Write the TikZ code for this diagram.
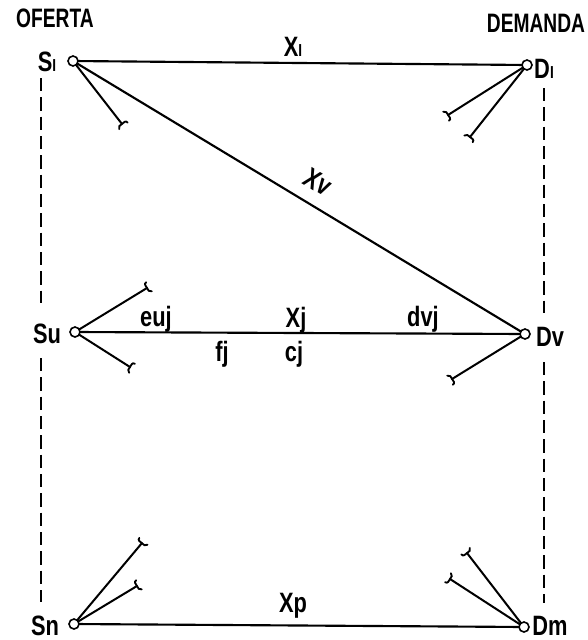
\documentclass[tikz,border=0pt]{standalone}
\usepackage{fontspec}
\setmainfont{Liberation Sans}
\newfontfamily\ttlfont[FakeStretch=0.72]{Liberation Sans Bold}
\newfontfamily\lblfont[FakeStretch=0.78]{Liberation Sans Bold}
\usetikzlibrary{decorations.markings}
\tikzset{
  pt/.style={circle,draw,fill=white,line width=1.2pt,inner sep=0pt,minimum size=7.5pt},
  link/.style={line width=1.6pt,line cap=round},
  branch/.style={line width=1.5pt,line cap=round,
    postaction={decorate},
    decoration={markings,mark=at position 1 with {
      \draw[line width=1.4pt,line cap=round]
        (1.8pt,-4pt) .. controls (-0.4pt,-3.8pt) and (0pt,-1.5pt) .. (0pt,0pt)
        .. controls (0pt,1.5pt) and (-0.6pt,4pt) .. (1.8pt,4pt);}}},
  guide/.style={line width=1.6pt,dash pattern=on 10pt off 4.5pt},
  ttl/.style={font=\ttlfont\fontsize{20}{20}\selectfont,inner sep=0pt},
  lbl/.style={font=\lblfont\fontsize{21}{21}\selectfont,inner sep=0pt}
}
\newcommand{\smallone}{{\fontsize{13}{13}\selectfont I}}
\begin{document}
\begin{tikzpicture}[x=0.75pt,y=-0.75pt]
\useasboundingbox (0,0) rectangle (587,640);
% titles
\node[ttl] (oferta) at (55,18) {OFERTA};
\node[ttl] (demanda) at (536,23) {DEMANDA};
% dashed guides
\coordinate (l1a) at (41,78); \coordinate (l1b) at (41,303);
\coordinate (l2a) at (41,358); \coordinate (l2b) at (41,602);
\coordinate (r1a) at (544,88); \coordinate (r1b) at (544,313);
\coordinate (r2a) at (544,362); \coordinate (r2b) at (544,603);
\draw[guide] (l1a) -- (l1b);
\draw[guide] (l2a) -- (l2b);
\draw[guide] (r1a) -- (r1b);
\draw[guide] (r2a) -- (r2b);
% branch end points
\coordinate (b1) at (122,124);
\coordinate (b2) at (448,115);
\coordinate (b3) at (470,137);
\coordinate (b4) at (147,288);
\coordinate (b5) at (130,367);
\coordinate (b6) at (452,379);
\coordinate (b7) at (142,543);
\coordinate (b8) at (137,586);
\coordinate (b9) at (467,553);
\coordinate (b10) at (450,579);
% node positions
\coordinate (pS1) at (73,61);
\coordinate (pD1) at (527,65);
\coordinate (pSu) at (75,332);
\coordinate (pDv) at (525,334);
\coordinate (pSn) at (74,624);
\coordinate (pDm) at (524,627);
% main links
\draw[link] (pS1) -- (pD1);
\draw[link] (pS1) -- (pDv);
\draw[link] (pSu) -- (pDv);
\draw[link] (pSn) -- (pDm);
% branches
\draw[branch] (pS1) -- (b1);
\draw[branch] (pD1) -- (b2);
\draw[branch] (pD1) -- (b3);
\draw[branch] (pSu) -- (b4);
\draw[branch] (pSu) -- (b5);
\draw[branch] (pDv) -- (b6);
\draw[branch] (pSn) -- (b7);
\draw[branch] (pSn) -- (b8);
\draw[branch] (pDm) -- (b9);
\draw[branch] (pDm) -- (b10);
% circles
\node[pt] (S1) at (pS1) {};
\node[pt] (D1) at (pD1) {};
\node[pt] (Su) at (pSu) {};
\node[pt] (Dv) at (pDv) {};
\node[pt] (Sn) at (pSn) {};
\node[pt] (Dm) at (pDm) {};
% node labels
\node[lbl] (tS1) at (47,62) {S\smallone};
\node[lbl] (tD1) at (544,69) {D\smallone};
\node[lbl] (tSu) at (47,334) {Su};
\node[lbl] (tDv) at (550,337) {Dv};
\node[lbl,anchor=base] (tSn) at (45,635) {Sn};
\node[lbl,anchor=base] (tDm) at (550,635) {Dm};
% link labels
\node[lbl] (tX1) at (293,47) {X\smallone};
\node[lbl,rotate=-31] (tXv) at (318,182) {Xv};
\node[lbl] (tXj) at (296,320) {Xj};
\node[lbl] (teuj) at (156,319) {euj};
\node[lbl] (tdvj) at (423,319) {dvj};
\node[lbl] (tfj) at (222,354) {fj};
\node[lbl] (tcj) at (294,354) {cj};
\node[lbl] (tXp) at (293,606) {Xp};
\end{tikzpicture}
\end{document}
